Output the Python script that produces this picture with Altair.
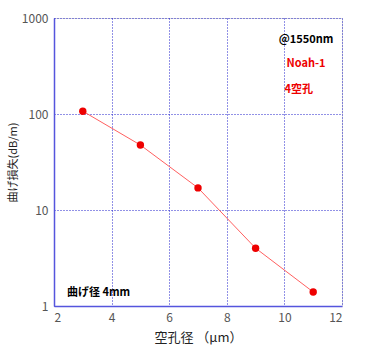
import altair as alt
import pandas as pd

hole_d = [3, 5, 7, 9, 11]
loss = [107, 47.5, 17, 4.0, 1.4]

df = pd.DataFrame({"d": hole_d, "loss": loss})

FONT = "Noto Sans CJK JP"
BLUE = "#2222cc"

xs = alt.Scale(domain=[2, 12], nice=False, zero=False)
ys = alt.Scale(type="log", domain=[1, 1000], nice=False)

base = alt.Chart(df)

line = base.mark_line(color="#ff6060", strokeWidth=1).encode(
    x=alt.X("d:Q", scale=xs,
            axis=alt.Axis(title="空孔径 （μm）", values=[2, 4, 6, 8, 10, 12],
                          grid=True, gridColor=BLUE, gridDash=[1, 2], gridOpacity=1,
                          domainColor="#5555dd", domainWidth=1.5, ticks=False,
                          labelColor="#555", labelFont=FONT, labelFontSize=12,
                          labelPadding=6, titleFont=FONT, titleFontSize=13,
                          titleFontWeight="normal", titleColor="#222", titlePadding=8)),
    y=alt.Y("loss:Q", scale=ys,
            axis=alt.Axis(title="曲げ損失(dB/m)", values=[1, 10, 100, 1000], format="d",
                          grid=True, gridColor=BLUE, gridDash=[1, 2], gridOpacity=1,
                          domainColor="#5555dd", domainWidth=1.5, ticks=False,
                          labelColor="#555", labelFont=FONT, labelFontSize=12,
                          labelPadding=6, titleFont=FONT, titleFontSize=11,
                          titleFontWeight="normal", titleColor="#222", titlePadding=3)),
)

pts = base.mark_circle(color="#ee0000", size=55, opacity=1).encode(
    x=alt.X("d:Q", scale=xs), y=alt.Y("loss:Q", scale=ys)
)

ann = pd.DataFrame({
    "x": [10.75, 10.75, 10.5, 2.45],
    "y": [590, 330, 178, 1.37],
    "t": ["@1550nm", "Noah-1", "4空孔", "曲げ径 4mm"],
    "c": ["#000000", "#ee0000", "#ee0000", "#000000"],
    "a": ["center", "center", "center", "left"],
})

texts = []
for i, r in ann.iterrows():
    texts.append(
        alt.Chart(ann.iloc[[i]]).mark_text(
            font=FONT, fontSize=11, fontWeight="bold", color=r["c"], align=r["a"]
        ).encode(x=alt.X("x:Q", scale=xs), y=alt.Y("y:Q", scale=ys), text="t:N")
    )

chart = alt.layer(line, pts, *texts).properties(
    width=288, height=288,
    autosize=alt.AutoSizeParams(type="none"),
    padding={"left": 54, "top": 18, "right": 23, "bottom": 47},
).configure_view(stroke="#5555dd", strokeWidth=1.5).configure(background="white")

chart.save("out.html", embed_options={"renderer": "svg", "actions": False})
